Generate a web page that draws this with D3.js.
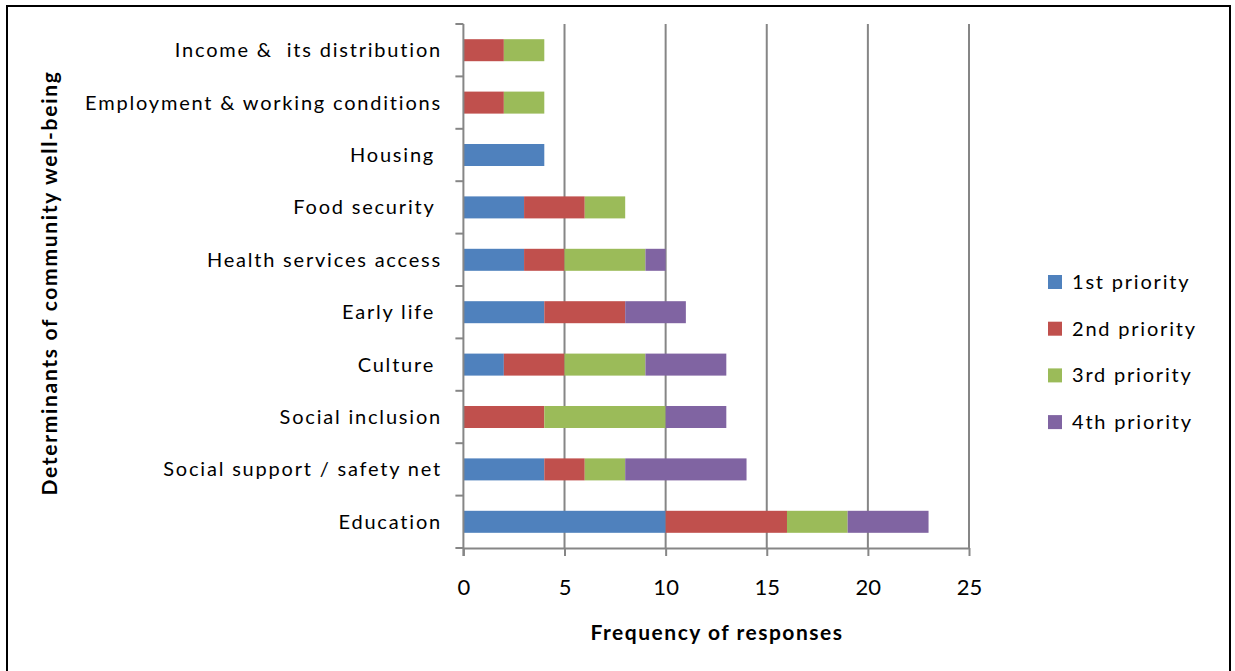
<!DOCTYPE html>
<html>
<head>
<meta charset="utf-8">
<script src="https://cdn.jsdelivr.net/npm/d3@7"></script>
<style>
  html, body { margin: 0; padding: 0; background: #fff; }
  svg text { font-family: Lato, Carlito, Calibri, "Open Sans", sans-serif; white-space: pre; }
</style>
</head>
<body>
<svg id="chart" width="1235" height="671"></svg>
<script>
// Determinants, top to bottom as drawn
const categories = [
  "Income &  its distribution",
  "Employment & working conditions",
  "Housing ",
  "Food security ",
  "Health services access",
  "Early life ",
  "Culture ",
  "Social inclusion",
  "Social support / safety net",
  "Education"
];
const seriesNames = ["1st priority", "2nd priority", "3rd priority", "4th priority"];
const first  = [0, 0, 4, 3, 3, 4, 2, 0, 4, 10];
const second = [2, 2, 0, 3, 2, 4, 3, 4, 2, 6];
const third  = [2, 2, 0, 2, 4, 0, 4, 6, 2, 3];
const fourth = [0, 0, 0, 0, 1, 3, 4, 3, 6, 4];
const xTicks = [0, 5, 10, 15, 20, 25];
const colors = ["#4F81BD", "#C0504D", "#9BBB59", "#8064A2"];

const svg = d3.select("#chart");

// outer frame
svg.append("rect")
  .attr("x", 7).attr("y", 6).attr("width", 1223).attr("height", 700)
  .attr("fill", "none").attr("stroke", "#000").attr("stroke-width", 2);

const plot = { left: 463.4, right: 969, top: 24, bottom: 548 };

const x = d3.scaleLinear().domain([0, 25]).range([plot.left, plot.right]);
const y = d3.scaleBand().domain(categories)
  .range([plot.top, plot.bottom])
  .paddingInner(0.58).paddingOuter(0.29);

const rows = categories.map((c, i) => ({
  cat: c, "1st priority": first[i], "2nd priority": second[i],
  "3rd priority": third[i], "4th priority": fourth[i]
}));
const stacked = d3.stack().keys(seriesNames)(rows);

const gridColor = "#868686";

// vertical gridlines
svg.append("g").selectAll("line")
  .data(xTicks.filter(t => t > 0))
  .join("line")
  .attr("x1", d => x(d)).attr("x2", d => x(d))
  .attr("y1", plot.top).attr("y2", plot.bottom)
  .attr("stroke", gridColor).attr("stroke-width", 2);

// stacked bars
svg.append("g").selectAll("g")
  .data(stacked)
  .join("g")
  .attr("fill", (d, i) => colors[i])
  .selectAll("rect")
  .data(d => d.filter(s => s[1] - s[0] > 0))
  .join("rect")
  .attr("x", d => x(d[0]))
  .attr("width", d => x(d[1]) - x(d[0]))
  .attr("y", d => y(d.data.cat))
  .attr("height", y.bandwidth());

// x axis
const xAxis = svg.append("g")
  .attr("transform", `translate(0,${plot.bottom})`)
  .call(d3.axisBottom(x).tickValues(xTicks).tickSize(8).tickPadding(23).tickSizeOuter(0));
xAxis.select(".domain").attr("stroke", gridColor).attr("stroke-width", 2);
xAxis.selectAll(".tick line").attr("stroke", gridColor).attr("stroke-width", 2);
xAxis.selectAll(".tick text")
  .attr("font-size", 22).attr("fill", "#000")
  .style("font-family", "Lato, Carlito, Calibri, sans-serif");

// y axis: ticks sit on the band boundaries
const yAxisG = svg.append("g");
yAxisG.append("line")
  .attr("x1", plot.left).attr("x2", plot.left)
  .attr("y1", plot.top).attr("y2", plot.bottom + 8)
  .attr("stroke", gridColor).attr("stroke-width", 2);
const boundaries = categories.map(c => y(c) - y.step() * y.paddingInner() / 2).concat([plot.bottom]);
yAxisG.selectAll("line.tk")
  .data(boundaries)
  .join("line")
  .attr("class", "tk")
  .attr("x1", plot.left - 8).attr("x2", plot.left)
  .attr("y1", d => d).attr("y2", d => d)
  .attr("stroke", gridColor).attr("stroke-width", 2);
yAxisG.selectAll("text")
  .data(categories)
  .join("text")
  .attr("x", 442)
  .attr("y", d => y(d) + y.bandwidth() / 2)
  .attr("dy", "0.35em")
  .attr("text-anchor", "end")
  .attr("font-size", 20)
  .attr("letter-spacing", 1.8)
  .attr("fill", "#000")
  .text(d => d);

// axis titles
svg.append("text")
  .attr("x", 717).attr("y", 640)
  .attr("text-anchor", "middle")
  .attr("font-size", 21).attr("font-weight", "bold")
  .attr("letter-spacing", 1.5)
  .text("Frequency of responses");
svg.append("text")
  .attr("transform", "translate(57,283) rotate(-90)")
  .attr("text-anchor", "middle")
  .attr("font-size", 21).attr("font-weight", "bold")
  .attr("letter-spacing", 1.7)
  .text("Determinants of community well-being");

// legend
const legend = svg.append("g").attr("transform", "translate(1048,282)");
const li = legend.selectAll("g")
  .data(seriesNames)
  .join("g")
  .attr("transform", (d, i) => `translate(0,${i * 46.7})`);
li.append("rect")
  .attr("x", 0).attr("y", -7).attr("width", 14).attr("height", 14)
  .attr("fill", (d, i) => colors[i]);
li.append("text")
  .attr("x", 24).attr("y", 0).attr("dy", "0.35em")
  .attr("font-size", 20).attr("letter-spacing", 1.8).attr("fill", "#000")
  .text(d => d);
</script>
</body>
</html>
